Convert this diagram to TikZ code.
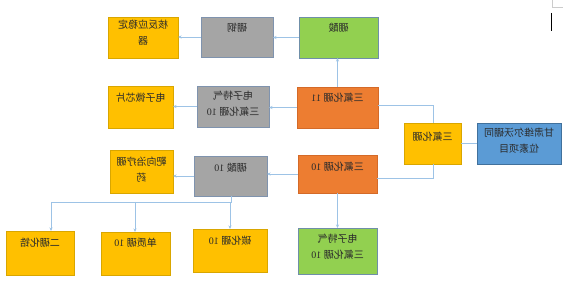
\documentclass[tikz,border=0pt]{standalone}
\usepackage{fontspec}
\setmainfont{Liberation Serif}
\newfontfamily\cjk{Noto Sans CJK SC}
\usepackage{graphicx}
\usetikzlibrary{arrows.meta,calc}
\definecolor{cyel}{HTML}{FFC000}
\definecolor{cyeld}{HTML}{D9A600}
\definecolor{cgray}{HTML}{A5A5A5}
\definecolor{cgrayd}{HTML}{7F93AE}
\definecolor{cgreen}{HTML}{92D050}
\definecolor{cgreend}{HTML}{6F8FA8}
\definecolor{corange}{HTML}{ED7D31}
\definecolor{coranged}{HTML}{D46A28}
\definecolor{cblue}{HTML}{5B9BD5}
\definecolor{cblued}{HTML}{41719C}
\definecolor{cline}{HTML}{9DC3E6}
\definecolor{ctext}{HTML}{2B2B2B}
\newcommand\mir[1]{\reflectbox{\begin{tabular}{@{}c@{}}#1\end{tabular}}}
\newcommand\zh[1]{{\cjk #1}}
\newcommand\bx[8]{%
  \node[#2, minimum width={(#5-#3)*1pt}, minimum height={(#6-#4)*1pt}] (#1) at ({(#3+#5)/2},{(#4+#6)/2}) {};
  \node[txt] (#1t) at ({(#3+#5)/2},#7) {\mir{#8}};}
\begin{document}
\begin{tikzpicture}[x=1pt,y=-1pt,
  base/.style={rectangle, inner sep=0pt, outer sep=0pt, line width=0.6pt},
  ybox/.style={base, fill=cyel, draw=cyeld},
  gbox/.style={base, fill=cgray, draw=cgrayd},
  grbox/.style={base, fill=cgreen, draw=cgreend},
  obox/.style={base, fill=corange, draw=coranged},
  bbox/.style={base, fill=cblue, draw=cblued},
  txt/.style={inner sep=0pt, text=ctext, font=\fontsize{10}{16}\selectfont},
  conn/.style={draw=cline, line width=0.8pt},
  arr/.style={conn, -{Stealth[length=3.5pt,width=3pt]}}]
\useasboundingbox (0,0) rectangle (563,302);
\fill[white] (0,0) rectangle (563,302);
% boxes
\bx{he}{ybox}{108}{17}{178}{58}{33.5}{\zh{核反应稳定}\\\zh{器}}
\bx{gang}{gbox}{201}{17}{273}{57}{28}{\zh{硼钢}}
\bx{suan}{grbox}{299}{17}{378}{58}{28}{\zh{硼酸}}
\bx{chip}{ybox}{108}{86}{173}{128}{98}{\zh{电子微芯片}}
\bx{tq}{gbox}{197}{86}{269}{127}{104}{\zh{电子特气}\\\zh{三氟化硼} 10}
\bx{f11}{obox}{297}{87}{378}{128}{98}{\zh{三氟化硼} 11}
\bx{sanfu}{ybox}{404}{123}{461}{164}{137}{\zh{三氟化硼}}
\bx{proj}{bbox}{477}{123}{561}{164}{141}{\zh{甘肃维尔沃硼同}\\\zh{位素项目}}
\bx{ba}{ybox}{110}{150}{173}{193}{170}{\zh{靶向治疗硼}\\\zh{药}}
\bx{suan10}{gbox}{194}{156}{267}{196}{168}{\zh{硼酸} 10}
\bx{f10}{obox}{298}{155}{377}{193}{167}{\zh{三氟化硼} 10}
\bx{zr}{ybox}{6}{231}{74}{275}{243}{\zh{二硼化锆}}
\bx{dz}{ybox}{101}{232}{170}{275}{243}{\zh{单质硼} 10}
\bx{tan}{ybox}{193}{229}{267}{272}{241}{\zh{碳化硼} 10}
\bx{tqg}{grbox}{298}{228}{377}{274}{247}{\zh{电子特气}\\\zh{三氟化硼} 10}
% connectors
\coordinate (j1) at (433,105);
\coordinate (j2) at (433,178);
\draw[conn] (proj.west |- 0,143) -- (sanfu.east |- 0,143);
\draw[conn] (sanfu.north -| j1) -- (j1) -- (j1 -| f11.east);
\draw[conn] (sanfu.south -| j2) -- (j2) -- (j2 -| f10.east);
\draw[arr] (f11.north) -- (f11.north |- suan.south);
\draw[arr] (suan.west) -- (suan.west -| gang.east);
\draw[arr] (gang.west) -- (gang.west -| he.east);
\draw[arr] (f11.west) -- (f11.west -| tq.east);
\draw[arr] (tq.west) -- (tq.west -| chip.east);
\draw[arr] (f10.west) -- (f10.west -| suan10.east);
\draw[arr] (suan10.west) -- (suan10.west -| ba.east);
\draw[arr] (f10.south) -- (f10.south |- tqg.north);
\coordinate (h0) at (231,202);
\coordinate (h1) at (51,202);
\coordinate (h2) at (135,202);
\coordinate (h3) at (230,202);
\draw[conn] (suan10.south -| h0) -- (h0) -- (h1);
\draw[arr] (h1) -- (h1 |- zr.north);
\draw[arr] (h2) -- (h2 |- dz.north);
\draw[arr] (h3) -- (h3 |- tan.north);
% top-right marks
\draw[black!20, line width=0.6pt] (552,0) -- (552,7) -- (563,7);
\draw[black, line width=0.8pt] (551,13) -- (551,31);
\end{tikzpicture}
\end{document}
